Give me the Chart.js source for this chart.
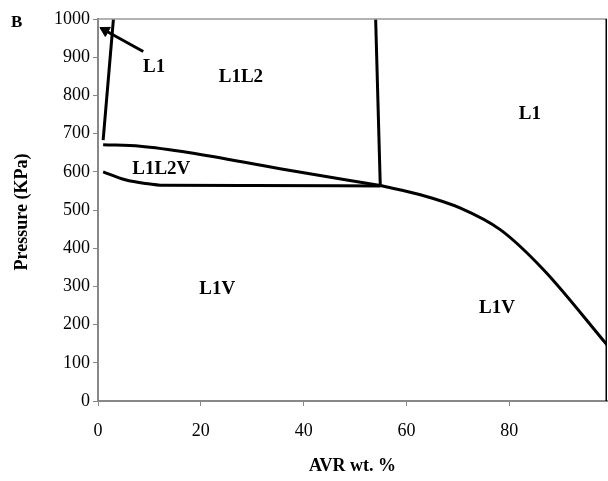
<!DOCTYPE html>
<html>
<head>
<meta charset="utf-8">
<script src="https://cdn.jsdelivr.net/npm/chart.js@4"></script>
<style>
html,body{margin:0;padding:0;background:#fff;}
#wrap{width:608px;height:481px;position:relative;}
</style>
</head>
<body>
<div id="wrap"><canvas id="c" width="608" height="481"></canvas></div>
<script>
// ---- data ----
const xTicks = [0, 20, 40, 60, 80];
const yTicks = [0, 100, 200, 300, 400, 500, 600, 700, 800, 900, 1000];

const leftLineX = [1, 3];
const leftLineY = [683, 1000];

const arrowX = [8.8, 1.4];
const arrowY = [915, 970];

const upperX = [1, 8.2, 17.9, 35.4, 54.9];
const upperY = [671, 667, 650, 608, 564];

const lowerX = [1, 5.3, 10.1, 12.1, 30, 54.9];
const lowerY = [600, 579, 568, 565, 564, 563];

const verticalX = [54, 54.9];
const verticalY = [1000, 564];

const rightX = [54.9, 62.7, 70.5, 78.3, 86.7, 99];
const rightY = [564, 540, 505, 448, 343, 147];

const regionLabels = ["L1", "L1L2", "L1", "L1L2V", "L1V", "L1V"];
const regionX = [10.9, 27.8, 84.0, 12.3, 23.2, 77.6];
const regionY = [873, 849, 752, 608, 294, 244];

const xTitle = "AVR wt. %";
const yTitle = "Pressure (KPa)";
const panelLetter = "B";

// ---- build ----
const pts = (xs, ys) => xs.map((x, i) => ({x: x, y: ys[i]}));
const lineDs = (xs, ys, extra) => Object.assign({
  data: pts(xs, ys), showLine: true, borderColor: '#000', borderWidth: 3,
  pointRadius: 0, fill: false
}, extra || {});

const annot = {
  id: 'annot',
  afterDraw(chart) {
    const ctx = chart.ctx, a = chart.chartArea;
    const xs = chart.scales.x, ys = chart.scales.y;
    ctx.save();
    // top border
    ctx.strokeStyle = '#999'; ctx.lineWidth = 1.5;
    ctx.beginPath(); ctx.moveTo(a.left, a.top); ctx.lineTo(a.right, a.top); ctx.stroke();
    // right border
    ctx.strokeStyle = '#000'; ctx.lineWidth = 1.5;
    ctx.beginPath(); ctx.moveTo(a.right - 0.75, a.top); ctx.lineTo(a.right - 0.75, a.bottom); ctx.stroke();
    // region labels
    ctx.fillStyle = '#000';
    ctx.font = 'bold 19px "Liberation Serif"';
    ctx.textAlign = 'center'; ctx.textBaseline = 'middle';
    regionLabels.forEach((t, i) => {
      ctx.fillText(t, xs.getPixelForValue(regionX[i]), ys.getPixelForValue(regionY[i]));
    });
    // axis titles
    ctx.font = 'bold 18px "Liberation Serif"';
    ctx.fillText(xTitle, (a.left + a.right) / 2, 466);
    ctx.save();
    ctx.translate(22, 212);
    ctx.rotate(-Math.PI / 2);
    ctx.fillText(yTitle, 0, 0);
    ctx.restore();
    // panel letter
    ctx.font = 'bold 17px "Liberation Serif"';
    ctx.textAlign = 'left'; ctx.textBaseline = 'alphabetic';
    ctx.fillText(panelLetter, 11, 27);
    ctx.restore();
  }
};

new Chart(document.getElementById('c'), {
  type: 'scatter',
  data: {
    datasets: [
      lineDs(leftLineX, leftLineY),
      lineDs(arrowX, arrowY, {
        borderWidth: 3,
        pointRadius: [0, 6], pointStyle: 'triangle', rotation: -61,
        pointBackgroundColor: '#000', pointBorderColor: '#000', pointBorderWidth: 1
      }),
      lineDs(upperX, upperY, {cubicInterpolationMode: 'monotone'}),
      lineDs(lowerX, lowerY, {cubicInterpolationMode: 'monotone'}),
      lineDs(verticalX, verticalY),
      lineDs(rightX, rightY, {cubicInterpolationMode: 'monotone'})
    ]
  },
  options: {
    responsive: false,
    animation: false,
    events: [],
    layout: {autoPadding: false, padding: {left: 0, right: 1, top: 19, bottom: 0}},
    plugins: {legend: {display: false}, tooltip: {enabled: false}},
    scales: {
      x: {
        type: 'linear', min: 0, max: 99,
        afterBuildTicks: s => { s.ticks = xTicks.map(v => ({value: v})); },
        afterFit: s => { s.height = 80; },
        ticks: {font: {family: 'Liberation Serif', size: 18}, color: '#000', padding: 14, maxRotation: 0,
                callback: v => String(v)},
        grid: {drawOnChartArea: false, drawTicks: true, tickLength: 5, color: '#888', lineWidth: 1},
        border: {color: '#888', width: 2}
      },
      y: {
        type: 'linear', min: 0, max: 1000,
        afterBuildTicks: s => { s.ticks = yTicks.map(v => ({value: v})); },
        afterFit: s => { s.width = 98; },
        ticks: {font: {family: 'Liberation Serif', size: 18}, color: '#000', padding: 3,
                callback: v => String(v)},
        grid: {drawOnChartArea: false, drawTicks: true, tickLength: 5, color: '#888', lineWidth: 1},
        border: {color: '#888', width: 2}
      }
    }
  },
  plugins: [annot]
});
</script>
</body>
</html>
